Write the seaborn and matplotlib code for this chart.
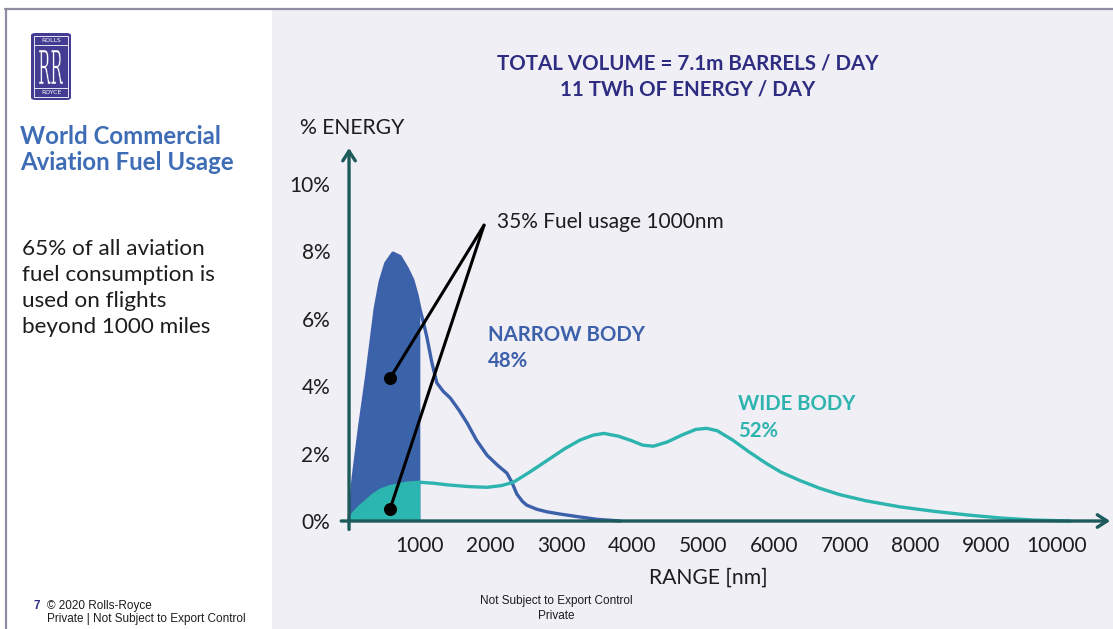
import numpy as np
import pandas as pd
import matplotlib
matplotlib.use("Agg")
import matplotlib.pyplot as plt
from matplotlib.patches import Rectangle, FancyBboxPatch, PathPatch
from matplotlib.lines import Line2D
from matplotlib.textpath import TextPath
from matplotlib.font_manager import FontProperties
from matplotlib.transforms import Affine2D
import seaborn as sns

# ---- data: share of daily aviation fuel energy by flight range ----
narrow_nm = [0, 60, 150, 250, 370, 440, 520, 620, 720, 820, 900, 960, 1000,
             1050, 1100, 1170, 1240, 1330, 1430, 1550, 1670, 1800, 1950, 2100,
             2230, 2300, 2370, 2450, 2510, 2650, 2800, 3000, 3260, 3500, 3830]
narrow_pct = [0.0, 1.3, 2.8, 4.3, 6.3, 7.1, 7.65, 7.95, 7.85, 7.5, 7.15, 6.7, 6.3,
              5.9, 5.45, 4.7, 4.1, 3.85, 3.65, 3.3, 2.9, 2.4, 1.95, 1.65,
              1.42, 1.15, 0.8, 0.58, 0.47, 0.35, 0.27, 0.2, 0.12, 0.05, 0.0]

wide_nm = [0, 60, 150, 250, 340, 450, 580, 800, 1000, 1200, 1400, 1700, 1950,
           2150, 2320, 2550, 2800, 3050, 3260, 3450, 3600, 3800, 3970, 4150,
           4300, 4500, 4700, 4900, 5050, 5200, 5420, 5650, 5900, 6100, 6370,
           6650, 6935, 7300, 7780, 8250, 8730, 9200, 9660, 10180]
wide_pct = [0.0, 0.22, 0.42, 0.6, 0.77, 0.92, 1.02, 1.12, 1.15, 1.12, 1.07, 1.02, 1.0,
            1.05, 1.15, 1.45, 1.8, 2.15, 2.4, 2.55, 2.6, 2.52, 2.4, 2.25,
            2.22, 2.35, 2.55, 2.72, 2.75, 2.68, 2.4, 2.05, 1.7, 1.45, 1.2,
            0.97, 0.78, 0.6, 0.42, 0.29, 0.18, 0.09, 0.03, 0.0]

short_haul_limit = 1000
x_ticks = [1000, 2000, 3000, 4000, 5000, 6000, 7000, 8000, 9000, 10000]
y_ticks = [0, 2, 4, 6, 8, 10]

# callout: apex and the two dots it points to
callout_apex = (1907, 8.78)
callout_dots_nm = [580, 580]
callout_dots_pct = [4.24, 0.36]

NAVY = "#2f2d82"
BLUE = "#3c60a9"
BLUE_FILL = "#3a63aa"
TEAL = "#2db4af"
TEAL_FILL = "#2bb6b1"
AXIS = "#1c5a5b"
PANEL = "#efeff5"
DARK = "#1d1d1d"

sns.set_style("white")
plt.rcParams["font.family"] = ["Lato", "DejaVu Sans"]

W, H = 1113, 629
fig = plt.figure(figsize=(W / 100, H / 100), dpi=100)
fig.patch.set_facecolor("white")

# right-hand panel background and slide frame
fig.add_artist(Rectangle((272 / W, 0), 1 - 272 / W, 1 - 9 / H,
                         transform=fig.transFigure, facecolor=PANEL,
                         edgecolor="none", zorder=0))
fig.add_artist(Line2D([5 / W, 1], [1 - 8.5 / H, 1 - 8.5 / H],
                      transform=fig.transFigure, color="#8d8ca3", lw=1.6))
fig.add_artist(Line2D([5.5 / W, 5.5 / W], [0, 1 - 8.5 / H],
                      transform=fig.transFigure, color="#8d8ca3", lw=1.6))

# ---- chart axes ----
ax = fig.add_axes([0.3066, 0.1583, 0.6908, 0.6064])
ax.set_facecolor("none")
ax.set_xlim(-110, 10749)
ax.set_ylim(-0.25, 11.07)
for s in ax.spines.values():
    s.set_visible(False)

df_n = pd.DataFrame({"range_nm": narrow_nm, "energy_pct": narrow_pct})
df_w = pd.DataFrame({"range_nm": wide_nm, "energy_pct": wide_pct})

# shaded share of flights up to 1000 nm
n_mask = df_n["range_nm"] <= short_haul_limit
w_mask = df_w["range_nm"] <= short_haul_limit
ax.fill_between(df_n["range_nm"][n_mask], 0, df_n["energy_pct"][n_mask],
                color=BLUE_FILL, lw=0, zorder=2)
ax.fill_between(df_w["range_nm"][w_mask], 0, df_w["energy_pct"][w_mask],
                color=TEAL_FILL, lw=0, zorder=3)

sns.lineplot(data=df_n, x="range_nm", y="energy_pct", ax=ax, color=BLUE,
             lw=2.4, sort=False, estimator=None, zorder=4)
sns.lineplot(data=df_w, x="range_nm", y="energy_pct", ax=ax, color=TEAL,
             lw=2.4, sort=False, estimator=None, zorder=5)

# axes drawn as arrows
arrow_kw = dict(arrowstyle="->,head_length=0.7,head_width=0.45", color=AXIS,
                lw=2.4, shrinkA=0, shrinkB=0)
ax.annotate("", xy=(0, 11.07), xytext=(0, -0.25), arrowprops=arrow_kw,
            annotation_clip=False, zorder=6)
ax.annotate("", xy=(10749, 0), xytext=(-110, 0), arrowprops=arrow_kw,
            annotation_clip=False, zorder=6)

ax.set_xticks(x_ticks)
ax.set_xticklabels([str(v) for v in x_ticks])
ax.set_yticks(y_ticks)
ax.set_yticklabels([f"{v}%" for v in y_ticks])
ax.tick_params(axis="both", length=0, labelsize=15, colors=DARK)
ax.tick_params(axis="x", pad=4.5)
ax.tick_params(axis="y", pad=8)
ax.set_xlabel("")
ax.set_ylabel("")

# callout lines
for dx, dy in zip(callout_dots_nm, callout_dots_pct):
    ax.plot([callout_apex[0], dx], [callout_apex[1], dy], color="black",
            lw=2.2, zorder=7, solid_capstyle="round")
ax.scatter(callout_dots_nm, callout_dots_pct, s=70, color="black", zorder=8)
ax.text(2090, 8.87, "35% Fuel usage 1000nm", fontsize=15, color=DARK,
        va="center", ha="left")

ax.text(1960, 5.52, "NARROW BODY", fontsize=14.7, fontweight="bold",
        color=BLUE, va="center", ha="left")
ax.text(1960, 4.75, "48%", fontsize=14.7, fontweight="bold",
        color=BLUE, va="center", ha="left")
ax.text(5500, 3.47, "WIDE BODY", fontsize=14.6, fontweight="bold",
        color=TEAL, va="center", ha="left")
ax.text(5500, 2.67, "52%", fontsize=14.6, fontweight="bold",
        color=TEAL, va="center", ha="left")

# ---- panel texts ----
fig.text(300 / W, 1 - 128 / H, "% ENERGY", fontsize=15.2, color=DARK,
         ha="left", va="center")
fig.text(708 / W, 1 - 578 / H, "RANGE [nm]", fontsize=15.2, color=DARK,
         ha="center", va="center")
fig.text(688 / W, 1 - 64 / H, "TOTAL VOLUME = 7.1m BARRELS / DAY",
         fontsize=14.8, fontweight="bold", color=NAVY, ha="center", va="center")
fig.text(688 / W, 1 - 90 / H, "11 TWh OF ENERGY / DAY",
         fontsize=14.8, fontweight="bold", color=NAVY, ha="center", va="center")

# left column
fig.text(20 / W, 1 - 136 / H, "World Commercial", fontsize=17.3,
         fontweight="bold", color="#3e6db5", ha="left", va="center")
fig.text(20 / W, 1 - 162 / H, "Aviation Fuel Usage", fontsize=17.3,
         fontweight="bold", color="#3e6db5", ha="left", va="center")
body = ["65% of all aviation", "fuel consumption is", "used on flights",
        "beyond 1000 miles"]
for i, line in enumerate(body):
    fig.text(22 / W, 1 - (249 + 26 * i) / H, line, fontsize=16.2, color=DARK,
             ha="left", va="center")

# badge
fig.add_artist(FancyBboxPatch((31 / W, 1 - 100 / H), 40 / W, 67 / H,
                              boxstyle="round,pad=0,rounding_size=0.004",
                              transform=fig.transFigure, facecolor="#433c92",
                              edgecolor="none", zorder=3))
fig.add_artist(Rectangle((34 / W, 1 - 97 / H), 34 / W, 61 / H,
                         transform=fig.transFigure, facecolor="none",
                         edgecolor="white", lw=0.6, zorder=4))
fig.add_artist(Line2D([34 / W, 68 / W], [1 - 45 / H, 1 - 45 / H],
                      transform=fig.transFigure, color="white", lw=0.6, zorder=4))
fig.add_artist(Line2D([34 / W, 68 / W], [1 - 88 / H, 1 - 88 / H],
                      transform=fig.transFigure, color="white", lw=0.6, zorder=4))
fig.text(51 / W, 1 - 41 / H, "ROLLS", fontsize=4.4, color="white",
         ha="center", va="center", zorder=5, family="DejaVu Sans")
fig.text(51 / W, 1 - 92.5 / H, "ROYCE", fontsize=4.4, color="white",
         ha="center", va="center", zorder=5, family="DejaVu Sans")

# condensed serif monogram drawn as a scaled text path (pixel units)
rr = TextPath((0, 0), "RR", size=10, prop=FontProperties(family="DejaVu Serif"))
bb = rr.get_extents()
sx = 24 / bb.width
sy = 34 / bb.height
rr_t = Affine2D().translate(-bb.x0, -bb.y0).scale(sx, sy).translate(39, H - 84)
fig.add_artist(PathPatch(rr_t.transform_path(rr), facecolor="white",
                         edgecolor="#433c92", lw=0.3, transform=None, zorder=5))

# footers
fig.text(33 / W, 1 - 606 / H, "7", fontsize=8.5, color=NAVY,
         fontweight="bold", ha="left", va="center", family="Liberation Sans")
fig.text(47 / W, 1 - 606 / H, "© 2020 Rolls-Royce", fontsize=8.5, color=DARK,
         ha="left", va="center", family="Liberation Sans")
fig.text(47 / W, 1 - 619 / H, "Private | Not Subject to Export Control",
         fontsize=8.5, color=DARK, ha="left", va="center",
         family="Liberation Sans")
fig.text(556 / W, 1 - 601 / H, "Not Subject to Export Control", fontsize=8.5,
         color=DARK, ha="center", va="center", family="Liberation Sans")
fig.text(556 / W, 1 - 616 / H, "Private", fontsize=8.5,
         color=DARK, ha="center", va="center", family="Liberation Sans")

fig.savefig("out.png", dpi=100)
